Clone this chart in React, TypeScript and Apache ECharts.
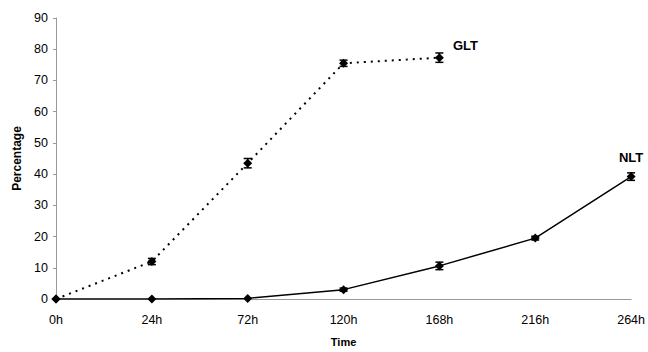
import React, { useEffect, useRef } from "react";
import * as echarts from "echarts";

const categories = ["0h", "24h", "72h", "120h", "168h", "216h", "264h"];
const gltValues: (number | null)[] = [0, 12, 43.5, 75.5, 77.3, null, null];
const gltErrors: (number | null)[] = [0, 1, 1.5, 1, 1.5, null, null];
const nltValues: number[] = [0, 0, 0.2, 3, 10.6, 19.5, 39.2];
const nltErrors: number[] = [0, 0, 0, 0.5, 1.2, 0.6, 1.2];
const yTicks = { min: 0, max: 90, interval: 10 };

const FONT = "Liberation Sans, Arial, sans-serif";

function errorSeries(values: (number | null)[], errors: (number | null)[], name: string) {
  const data: number[][] = [];
  values.forEach((v, i) => {
    const e = errors[i];
    if (v != null && e != null && e > 0) data.push([i, v - e, v + e]);
  });
  return {
    type: "custom",
    name,
    z: 5,
    renderItem: (params: any, api: any) => {
      const x = api.value(0);
      const lo = api.coord([x, api.value(1)]);
      const hi = api.coord([x, api.value(2)]);
      const w = 4;
      const style = { stroke: "#000", lineWidth: 1.5 };
      return {
        type: "group",
        children: [
          { type: "line", shape: { x1: lo[0], y1: lo[1], x2: hi[0], y2: hi[1] }, style },
          { type: "line", shape: { x1: lo[0] - w, y1: lo[1], x2: lo[0] + w, y2: lo[1] }, style },
          { type: "line", shape: { x1: hi[0] - w, y1: hi[1], x2: hi[0] + w, y2: hi[1] }, style },
        ],
      };
    },
    encode: { x: 0, y: [1, 2] },
    data,
  };
}

export default function App() {
  const ref = useRef<HTMLDivElement>(null);
  useEffect(() => {
    if (!ref.current) return;
    const chart = echarts.init(ref.current, undefined, { renderer: "svg" });
    const gltData = gltValues.map((v, i) =>
      i === 4
        ? {
            value: v,
            label: {
              show: true,
              formatter: "GLT",
              position: "right",
              offset: [4, -12],
              fontFamily: FONT,
              fontWeight: "bold",
              fontSize: 13,
              color: "#000",
            },
          }
        : v
    );
    const nltData = nltValues.map((v, i) =>
      i === 6
        ? {
            value: v,
            label: {
              show: true,
              formatter: "NLT",
              position: "top",
              distance: 8,
              fontFamily: FONT,
              fontWeight: "bold",
              fontSize: 13,
              color: "#000",
            },
          }
        : v
    );
    chart.setOption({
      animation: false,
      backgroundColor: "#fff",
      grid: { left: 56, right: 16, top: 18, bottom: 49 },
      xAxis: {
        type: "category",
        data: categories,
        boundaryGap: false,
        name: "Time",
        nameLocation: "middle",
        nameGap: 37,
        nameTextStyle: { fontFamily: FONT, fontWeight: "bold", fontSize: 11, color: "#000" },
        axisLine: { lineStyle: { color: "#999", width: 1 } },
        axisTick: { show: false },
        axisLabel: { fontFamily: FONT, fontSize: 12.5, color: "#000", margin: 14 },
        splitLine: { show: false },
      },
      yAxis: {
        type: "value",
        min: yTicks.min,
        max: yTicks.max,
        interval: yTicks.interval,
        name: "Percentage",
        nameLocation: "middle",
        nameGap: 33,
        nameTextStyle: { fontFamily: FONT, fontWeight: "bold", fontSize: 12, color: "#000" },
        axisLine: { show: true, lineStyle: { color: "#999", width: 1 } },
        axisTick: { show: true, length: 3, lineStyle: { color: "#999" } },
        axisLabel: { fontFamily: FONT, fontSize: 12.5, color: "#000", margin: 8 },
        splitLine: { show: false },
      },
      series: [
        {
          type: "line",
          name: "GLT",
          data: gltData,
          symbol: "diamond",
          symbolSize: 9,
          itemStyle: { color: "#000" },
          lineStyle: { color: "#000", width: 2, type: [2, 5] },
          z: 3,
        },
        {
          type: "line",
          name: "NLT",
          data: nltData,
          symbol: "diamond",
          symbolSize: 9,
          itemStyle: { color: "#000" },
          lineStyle: { color: "#000", width: 1.5, type: "solid" },
          z: 3,
        },
        errorSeries(gltValues, gltErrors, "GLT err"),
        errorSeries(nltValues, nltErrors, "NLT err"),
      ],
    });
    return () => chart.dispose();
  }, []);
  return (
    <div
      ref={ref}
      style={{ position: "absolute", left: 0, top: 0, width: 648, height: 352 }}
    />
  );
}
